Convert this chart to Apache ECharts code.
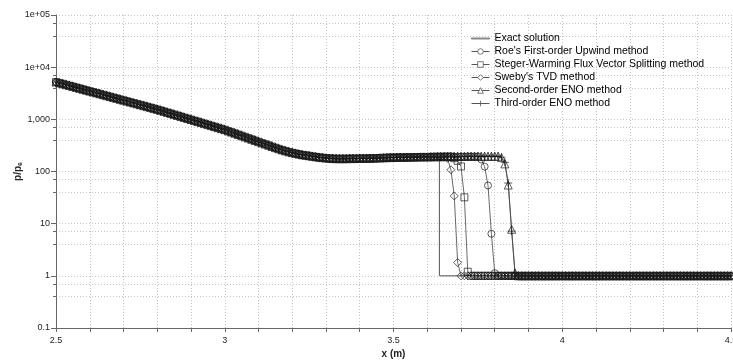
<!DOCTYPE html>
<html>
<head>
<meta charset="utf-8">
<script src="https://cdn.jsdelivr.net/npm/echarts@6/dist/echarts.min.js"></script>
<style>
html,body{margin:0;padding:0;background:#fff}
#main{width:733px;height:361px}
</style>
</head>
<body>
<div id="main"></div>
<script>
// grid of the solution: x = 2.50 .. 4.50, step 0.01
var x0 = 2.5, dx = 0.01, nPts = 201;

// p/pe before the shock, x = 2.50 .. 3.63 (all methods)
var upstream = [
  5200, 4994, 4797, 4608, 4426, 4252, 4083, 3922, 3767, 3619,
  3475, 3338, 3206, 3079, 2958, 2841, 2729, 2621, 2517, 2418,
  2322, 2231, 2143, 2058, 1977, 1899, 1824, 1752, 1682, 1616,
  1552, 1484, 1419, 1357, 1297, 1240, 1186, 1134, 1084, 1036,
  991, 947, 906, 866, 828, 792, 757, 724, 692, 662,
  633, 600, 569, 540, 512, 486, 461, 437, 414, 393,
  373, 353, 335, 318, 301, 286, 272, 259, 248, 238,
  229, 222, 215, 209, 204, 200, 195, 191, 187, 184,
  181, 179, 177, 176, 176, 176, 176, 177, 177, 177,
  178, 178, 179, 179, 180, 181, 182, 183, 184, 185,
  186, 186, 187, 187, 188, 188, 189, 189, 190, 190,
  190, 191, 191, 192
];
// plateau behind the shock, x = 3.64 .. 3.83
var plateau = [192, 192, 193, 193, 193, 194, 194, 194, 195, 195,
               195, 195, 196, 196, 196, 196, 196, 196, 196, 196];
var downstream = 1;
var exactShockX = 3.636;

// shock profiles: first x and values
var methods = [
  {name: "Roe's First-order Upwind method", symbol: 'circle', size: 7, start: 3.76, shock: [170, 124, 54, 6.4, 1.13]},
  {name: 'Steger-Warming Flux Vector Splitting method', symbol: 'rect', size: 7, start: 3.68, shock: [180, 160, 125, 32, 1.2]},
  {name: "Sweby's TVD method", symbol: 'diamond', size: 8, start: 3.66, shock: [178, 108, 34, 1.8]},
  {name: 'Second-order ENO method', symbol: 'triangle', size: 8, start: 3.82, shock: [185, 140, 55, 7.8, 1.14]},
  {name: 'Third-order ENO method', symbol: 'path://M5,0L5,10M0,5L10,5', size: 8, start: 3.82, shock: [188, 150, 60, 7.2, 1.1]}
];
var yTickLabels = ['0.1', '1', '10', '100', '1,000', '1e+04', '1e+05'];

function methodData(m) {
  var d = [];
  for (var i = 0; i < nPts; i++) {
    var x = +(x0 + i * dx).toFixed(2), y;
    if (i < upstream.length) y = upstream[i];
    else {
      var k = Math.round((x - m.start) / dx);
      if (k < 0) y = plateau[i - upstream.length];
      else if (k < m.shock.length) y = m.shock[k];
      else y = downstream;
    }
    d.push([x, y]);
  }
  return d;
}

var exactData = [];
for (var i = 0; i < upstream.length; i++) exactData.push([+(x0 + i * dx).toFixed(2), upstream[i]]);
exactData.push([exactShockX, plateau[0]], [exactShockX, downstream], [x0 + (nPts - 1) * dx, downstream]);

var series = [{
  name: 'Exact solution', type: 'line', data: exactData, symbol: 'none',
  lineStyle: {color: '#555', width: 1}, itemStyle: {color: '#555'}, z: 1
}];
methods.forEach(function (m) {
  series.push({
    name: m.name, type: 'line', data: methodData(m),
    symbol: m.symbol, symbolSize: m.size, showAllSymbol: true,
    lineStyle: {color: '#444', width: 0.8},
    itemStyle: {color: 'rgba(0,0,0,0)', borderColor: '#1a1a1a', borderWidth: 0.7}
  });
});

var legendData = series.map(function (s, i) {
  return i === 0 ? {name: s.name, icon: 'path://M0,0L20,0L20,1L0,1Z'} : {name: s.name};
});

var chart = echarts.init(document.getElementById('main'));
var gridLine = {show: true, lineStyle: {color: '#c4c4c4', type: [1, 2], width: 1}};
chart.setOption({
  animation: false,
  backgroundColor: '#fff',
  grid: {left: 56, right: 2, top: 15, bottom: 33, outerBoundsMode: 'none', containLabel: false},
  legend: {
    orient: 'vertical', left: 466, top: 28,
    itemWidth: 18, itemHeight: 7, itemGap: 2,
    itemStyle: {color: '#fff', borderColor: '#555', borderWidth: 0.8},
    lineStyle: {color: '#555', width: 1},
    textStyle: {fontFamily: 'Liberation Sans', fontSize: 10.5, color: '#000'},
    data: legendData
  },
  xAxis: {
    type: 'value', min: 2.5, max: 4.5, interval: 0.5,
    name: 'x (m)', nameLocation: 'middle', nameGap: 21, nameMoveOverlap: false,
    nameTextStyle: {fontFamily: 'Liberation Sans', fontWeight: 'bold', fontSize: 10, color: '#222'},
    axisLine: {lineStyle: {color: '#666'}},
    axisTick: {show: true, length: 4, lineStyle: {color: '#666'}},
    minorTick: {show: true, splitNumber: 5, length: 4, lineStyle: {color: '#666'}},
    splitLine: gridLine, minorSplitLine: gridLine,
    axisLabel: {fontFamily: 'Liberation Sans', fontSize: 9, color: '#222', margin: 8,
      formatter: function (v) { return String(v); }}
  },
  yAxis: {
    type: 'log', logBase: 10, min: 0.1, max: 100000, splitNumber: 6,
    name: 'p/pₑ', nameLocation: 'middle', nameGap: 33, nameMoveOverlap: false,
    nameTextStyle: {fontFamily: 'Liberation Sans', fontWeight: 'bold', fontSize: 10, color: '#222'},
    axisLine: {show: true, lineStyle: {color: '#666'}},
    axisTick: {show: true, length: 5, lineStyle: {color: '#666'}},
    minorTick: {show: true, splitNumber: 3, length: 3, lineStyle: {color: '#666'}},
    splitLine: gridLine, minorSplitLine: gridLine,
    axisLabel: {fontFamily: 'Liberation Sans', fontSize: 9, color: '#222', margin: 6,
      formatter: function (v) { return yTickLabels[Math.round(Math.log10(v)) + 1]; }}
  },
  series: series
});
</script>
</body>
</html>
